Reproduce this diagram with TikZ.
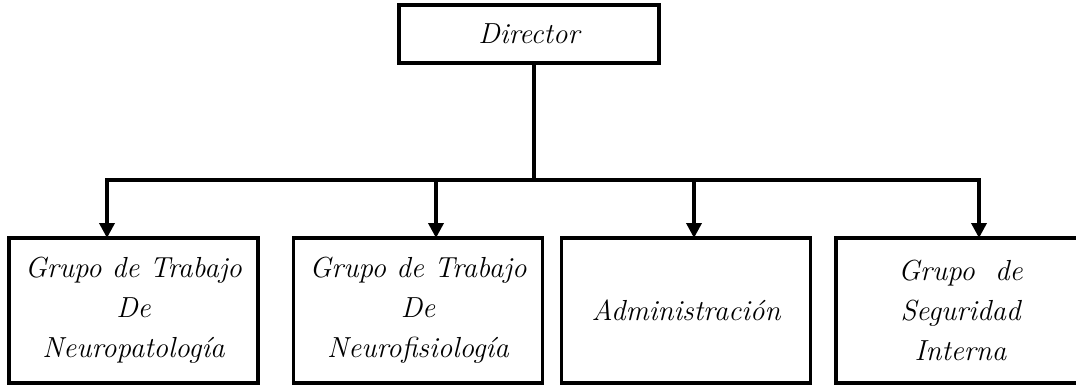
\documentclass[tikz,border=0pt]{standalone}
\usepackage{tikz}
\usetikzlibrary{arrows.meta}
\tikzset{
  orgbox/.style={draw, line width=2pt, align=center, inner sep=2pt,
                 font=\fontsize{16.5}{22.7}\selectfont\itshape},
  topbox/.style={orgbox, minimum width=5.2cm, minimum height=1.16cm},
  unitbox/.style={orgbox, minimum width=4.98cm, minimum height=2.9cm},
  link/.style={line width=2pt},
  fwd/.style={line width=2pt, -{Triangle[length=3mm, width=3mm]}, shorten >=-1pt},
}

\begin{document}
\begin{tikzpicture}[x=0.02cm, y=-0.02cm]
  \useasboundingbox (0,0) rectangle (1076,385);

  \node[topbox] (director) at (529,34) {Director};

  \node[unitbox] (neuropat) at (133.5,310.5) {Grupo de Trabajo\\De\\Neuropatología};
  \node[unitbox] (neurofis) at (418,310.5) {Grupo de Trabajo\\De\\Neurofisiología};
  \node[unitbox] (admin) at (686,310.5) {Administración};
  \node[unitbox] (security) at (960.5,310.5) {Grupo~ de\\Seguridad\\Interna};

  % branch points on the bus
  \coordinate (hub) at (534,180);
  \coordinate (j1) at (107,180);
  \coordinate (j2) at (436,180);
  \coordinate (j3) at (694,180);
  \coordinate (j4) at (979,180);

  \draw[link] (director.south -| hub) -- (hub);
  \draw[link] ([xshift=-1pt]j1) -- ([xshift=1pt]j4);

  \draw[fwd] (j1) -- (j1 |- neuropat.north);
  \draw[fwd] (j2) -- (j2 |- neurofis.north);
  \draw[fwd] (j3) -- (j3 |- admin.north);
  \draw[fwd] (j4) -- (j4 |- security.north);

\end{tikzpicture}
\end{document}
